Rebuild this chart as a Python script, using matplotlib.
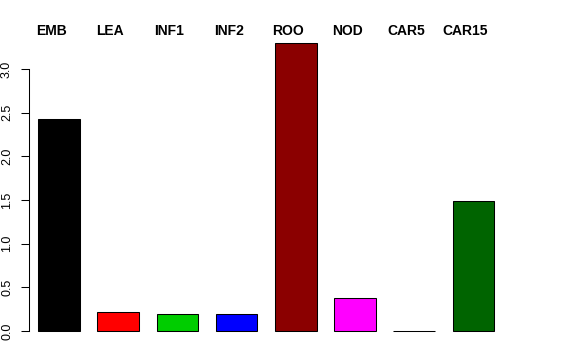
import numpy as np
import matplotlib
matplotlib.use("Agg")
import matplotlib.pyplot as plt

plt.rcParams["font.family"] = ["Liberation Sans", "DejaVu Sans"]

# Data
tissues = ["EMB", "LEA", "INF1", "INF2", "ROO", "NOD", "CAR5", "CAR15"]
values = [2.43, 0.215, 0.20, 0.195, 3.30, 0.375, 0.004, 1.49]
colors = ["#000000", "#FF0000", "#00CD00", "#0000FF", "#8B0000", "#FF00FF", "#FFFF00", "#006400"]

fig = plt.figure(figsize=(5.76, 3.6), dpi=100)
ax = fig.add_axes([29 / 576, 17.5 / 360, 483 / 576, 311.1 / 360])

x = np.arange(len(tissues))
ax.bar(x, values, width=0.7, color=colors, edgecolor="black", linewidth=0.75)

ax.set_xlim(-0.507, 7.652)
ax.set_ylim(-0.132, 3.43)

# group labels across the top
for xi, name in zip(x, tissues):
    ax.text(xi - 0.135, 3.44, name, ha="center", va="center",
            fontsize=10, fontweight="bold")

for side in ["top", "right", "bottom"]:
    ax.spines[side].set_visible(False)
ax.spines["left"].set_bounds(0, 3.0)
ax.spines["left"].set_linewidth(0.75)

ax.set_xticks([])
ax.set_yticks(np.arange(0, 3.01, 0.5))
ax.set_yticklabels([f"{v:.1f}" for v in np.arange(0, 3.01, 0.5)],
                   rotation=90, va="center", fontsize=9)
ax.tick_params(axis="y", length=5.5, width=0.75, pad=6)

fig.savefig("out.png", dpi=100)
